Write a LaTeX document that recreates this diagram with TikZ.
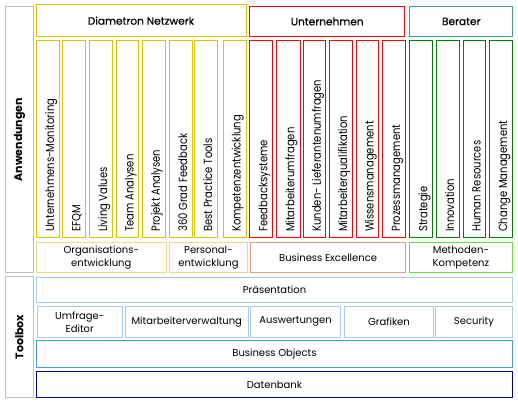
\documentclass[tikz,border=0pt]{standalone}
\usepackage{fontspec}
\setmainfont{Poppins}
\newfontfamily\vfont{Poppins}[FakeStretch=0.85]
\newfontfamily\hfont{Poppins}[FakeBold=0.5]
\definecolor{sidegray}{HTML}{C0C0C0}
\definecolor{dyel}{HTML}{E2C200}
\definecolor{dyellight}{HTML}{E6DE80}
\definecolor{ured}{HTML}{FF0000}
\definecolor{salmon}{HTML}{E0A080}
\definecolor{bteal}{HTML}{40A080}
\definecolor{bgreen}{HTML}{008000}
\definecolor{lgreen}{HTML}{66DD44}
\definecolor{lblue}{HTML}{A8CCF0}
\definecolor{tblue}{HTML}{40A0C0}
\definecolor{dblue}{HTML}{0000A0}
\tikzset{
  bx/.style={draw, line width=0.9pt, anchor=north west, inner sep=0pt, align=center,
    font=\fontsize{10}{13}\selectfont},
  hdr/.style={font=\hfont\fontsize{10.6}{13}\selectfont},
  vt/.style={rotate=90, anchor=base west, inner sep=0pt, font=\vfont\fontsize{11.8}{12}\selectfont},
  side/.style={rotate=90, inner sep=0pt, font=\bfseries\fontsize{11}{13}\selectfont},
}
\newcommand\B[7]{\node[bx,#6,minimum width={(#4-#2)*1pt},minimum height={(#5-#3)*1pt}] (#1) at (#2,#3) {#7};}
\newcommand\C[5]{%
  \node[bx,draw=#4,minimum width={(#3-#2)*1pt},minimum height=197pt] (#1) at (#2,40) {};
  \node[vt] (#1t) at ({(#2+#3)/2+6.5},232) {#5};}
\begin{document}
\begin{tikzpicture}[x=1pt,y=-1pt]
\useasboundingbox (0,0) rectangle (518,403);
% side panels
\B{anw}{5}{6}{33}{272.3}{draw=sidegray}{}
\B{tool}{5}{276}{33}{397.3}{draw=sidegray}{}
\node[side] (anwt) at (anw.center) {Anwendungen};
\node[side] (toolt) at (tool.center) {Toolbox};
% headers
\B{dia}{35.5}{4.5}{245.6}{36}{draw=dyel,hdr}{Diametron Netzwerk}
\B{unt}{249.3}{6}{404.3}{36}{draw=ured,hdr}{Unternehmen}
\B{ber}{409.3}{6}{512.3}{36}{draw=bteal,hdr}{Berater}
% columns
\C{c1}{36}{59.3}{dyel}{Unternehmens-Monitoring}
\C{c2}{62.3}{85.3}{dyel}{EFQM}
\C{c3}{89}{112}{dyel}{Living Values}
\C{c4}{116}{138}{dyel}{Team Analysen}
\C{c5}{142}{164.7}{dyel}{Projekt Analysen}
\C{c6}{169}{192}{dyel}{360 Grad Feedback}
\C{c7}{194}{217}{dyel}{Best Practice Tools}
\C{c8}{222.7}{245.7}{dyel}{Kompetenzentwicklung}
\C{c9}{249.3}{272.3}{ured}{Feedbacksysteme}
\C{c10}{276}{299.7}{ured}{Mitarbeiterumfragen}
\C{c11}{303.3}{325.3}{ured}{Kunden- Lieferantenumfragen}
\C{c12}{329}{352.3}{ured}{Mitarbeiterqualifikation}
\C{c13}{356}{378.3}{ured}{Wissensmanagement}
\C{c14}{382}{405.3}{ured}{Prozessmanagement}
\C{c15}{409.3}{432.3}{bgreen}{Strategie}
\C{c16}{435.7}{459.3}{bgreen}{Innovation}
\C{c17}{463}{485.3}{bgreen}{Human Resources}
\C{c18}{489}{512.3}{bgreen}{Change Management}
% groups
\B{g1}{36}{241.7}{165.7}{272.3}{draw=dyellight}{Organisations-\\entwicklung}
\B{g2}{169.3}{241.7}{246.7}{272.3}{draw=dyellight}{Personal-\\entwicklung}
\B{g3}{250}{241.7}{405.3}{272.3}{draw=salmon}{Business Excellence}
\B{g4}{409.3}{241.7}{511.7}{272.3}{draw=lgreen}{Methoden-\\Kompetenz}
% toolbox
\B{pr}{36}{276.7}{512}{302.3}{draw=lblue}{Präsentation}
\B{t1}{37}{306}{121.7}{336.7}{draw=lblue}{Umfrage-\\Editor}
\B{t2}{125}{306}{247.7}{336.7}{draw=lblue}{Mitarbeiterverwaltung}
\B{t3}{250}{306}{340.3}{336.7}{draw=lblue}{Auswertungen}
\B{t4}{344.3}{306}{432.7}{336.7}{draw=lblue}{Grafiken}
\B{t5}{435.3}{306}{511.7}{336.7}{draw=lblue}{Security}
\B{bo}{36}{340}{512}{367.3}{draw=tblue}{Business Objects}
\B{db}{36}{371}{512}{397.3}{draw=dblue}{Datenbank}
\end{tikzpicture}
\end{document}
